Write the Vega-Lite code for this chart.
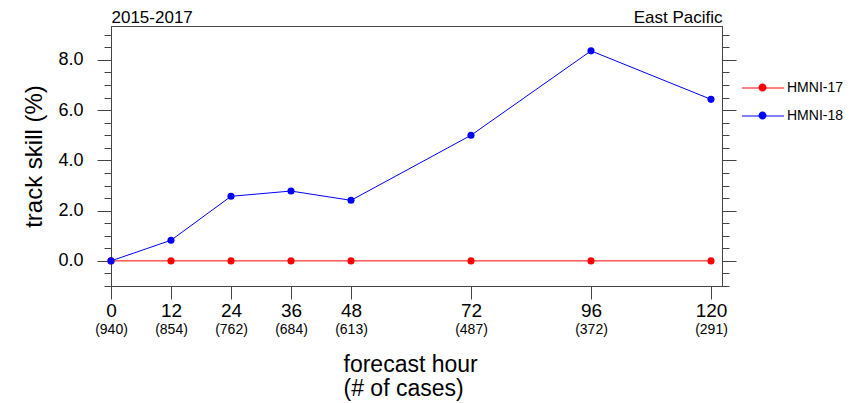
{
  "$schema": "https://vega.github.io/schema/vega-lite/v6.json",
  "width": 611,
  "height": 260,
  "autosize": {"type": "none"},
  "padding": {"left": 111, "top": 26, "right": 129, "bottom": 117},
  "background": "white",
  "config": {
    "font": "Liberation Sans",
    "view": {"stroke": "#444444", "strokeWidth": 1},
    "axis": {
      "grid": false,
      "domainColor": "#444444",
      "tickColor": "#444444",
      "labelColor": "#000000",
      "titleColor": "#000000",
      "titleFontWeight": "normal",
      "labelFlush": false,
      "labelOverlap": false,
      "labelBound": false,
      "labelFont": "Liberation Sans",
      "titleFont": "Liberation Sans"
    }
  },
  "data": {
    "values": [
      {"model": "HMNI-17", "hour": 0, "cases": 940, "skill": 0.0},
      {"model": "HMNI-17", "hour": 12, "cases": 854, "skill": 0.0},
      {"model": "HMNI-17", "hour": 24, "cases": 762, "skill": 0.0},
      {"model": "HMNI-17", "hour": 36, "cases": 684, "skill": 0.0},
      {"model": "HMNI-17", "hour": 48, "cases": 613, "skill": 0.0},
      {"model": "HMNI-17", "hour": 72, "cases": 487, "skill": 0.0},
      {"model": "HMNI-17", "hour": 96, "cases": 372, "skill": 0.0},
      {"model": "HMNI-17", "hour": 120, "cases": 291, "skill": 0.0},
      {"model": "HMNI-18", "hour": 0, "cases": 940, "skill": 0.0},
      {"model": "HMNI-18", "hour": 12, "cases": 854, "skill": 0.82},
      {"model": "HMNI-18", "hour": 24, "cases": 762, "skill": 2.57},
      {"model": "HMNI-18", "hour": 36, "cases": 684, "skill": 2.78},
      {"model": "HMNI-18", "hour": 48, "cases": 613, "skill": 2.41},
      {"model": "HMNI-18", "hour": 72, "cases": 487, "skill": 5.0},
      {"model": "HMNI-18", "hour": 96, "cases": 372, "skill": 8.36},
      {"model": "HMNI-18", "hour": 120, "cases": 291, "skill": 6.43}
    ]
  },
  "layer": [
    {
      "mark": {"type": "line", "strokeWidth": 1},
      "encoding": {
        "x": {
          "field": "hour", "type": "quantitative",
          "scale": {"domain": [0, 122.2], "nice": false, "zero": false},
          "axis": {
            "orient": "bottom",
            "values": [0, 12, 24, 36, 48, 72, 96, 120],
            "tickSize": 13,
            "labelFontSize": 19,
            "labelPadding": 2,
            "title": null
          }
        },
        "y": {
          "field": "skill", "type": "quantitative",
          "scale": {"domain": [-1, 9.35], "nice": false, "zero": false},
          "axis": {
            "orient": "left",
            "values": [0, 2, 4, 6, 8],
            "format": ".1f",
            "tickSize": 14,
            "labelFontSize": 18,
            "labelPadding": 14,
            "title": "track skill (%)",
            "titleFontSize": 24,
            "titlePadding": 11
          }
        },
        "color": {
          "field": "model", "type": "nominal",
          "scale": {"domain": ["HMNI-17", "HMNI-18"], "range": ["#ff0000", "#0000ff"]},
          "legend": {
            "title": null,
            "orient": "none",
            "legendX": 641,
            "legendY": 51,
            "padding": 0,
            "symbolType": "M-2,0L2,0",
            "symbolSize": 441,
            "symbolStrokeWidth": 1,
            "symbolOpacity": 1,
            "labelFontSize": 14,
            "labelOffset": 13,
            "labelColor": "#000000",
            "labelFont": "Liberation Sans",
            "rowPadding": 10
          }
        }
      }
    },
    {
      "mark": {"type": "point", "filled": true, "size": 50, "opacity": 1},
      "encoding": {
        "x": {
          "field": "hour", "type": "quantitative",
          "scale": {"domain": [0, 122.2], "nice": false, "zero": false},
          "axis": {
            "orient": "bottom",
            "values": [0, 12, 24, 36, 48, 72, 96, 120],
            "labelExpr": "['(940)','(854)','(762)','(684)','(613)','(487)','(372)','(291)'][indexof([0,12,24,36,48,72,96,120], datum.value)]",
            "ticks": false,
            "tickSize": 0,
            "domain": false,
            "labelFontSize": 14,
            "labelPadding": 36,
            "title": ["forecast hour", "(# of cases)"],
            "titleFontSize": 23,
            "titleLineHeight": 24,
            "titleAlign": "left",
            "titleX": 232,
            "titlePadding": 17
          }
        },
        "y": {
          "field": "skill", "type": "quantitative",
          "scale": {"domain": [-1, 9.35], "nice": false, "zero": false},
          "axis": {
            "orient": "left",
            "values": [-1, -0.5, 0, 0.5, 1, 1.5, 2, 2.5, 3, 3.5, 4, 4.5, 5, 5.5, 6, 6.5, 7, 7.5, 8, 8.5, 9],
            "labels": false,
            "domain": false,
            "tickSize": 7,
            "title": null
          }
        },
        "color": {
          "field": "model", "type": "nominal",
          "scale": {"domain": ["HMNI-17", "HMNI-18"], "range": ["#ff0000", "#0000ff"]},
          "legend": {
            "title": null,
            "orient": "none",
            "legendX": 641,
            "legendY": 51,
            "padding": 0,
            "symbolType": "M-0.38,0A0.38,0.38 0 1,1 0.38,0A0.38,0.38 0 1,1 -0.38,0Z",
            "symbolSize": 441,
            "symbolStrokeWidth": 0,
            "symbolOpacity": 1,
            "labelFontSize": 14,
            "labelOffset": 13,
            "labelOpacity": 0,
            "labelFont": "Liberation Sans",
            "rowPadding": 10
          }
        }
      }
    },
    {
      "mark": {"type": "point", "opacity": 0},
      "encoding": {
        "x": {
          "field": "hour", "type": "quantitative",
          "scale": {"domain": [0, 122.2], "nice": false, "zero": false},
          "axis": {
            "orient": "top",
            "ticks": false, "tickSize": 0, "labels": false, "domain": false,
            "title": "East Pacific",
            "titleAnchor": "end",
            "titleFontSize": 17,
            "titlePadding": 0
          }
        },
        "y": {
          "field": "skill", "type": "quantitative",
          "scale": {"domain": [-1, 9.35], "nice": false, "zero": false},
          "axis": {
            "orient": "right",
            "values": [0, 2, 4, 6, 8],
            "labels": false,
            "tickSize": 14,
            "title": null
          }
        }
      }
    },
    {
      "mark": {"type": "point", "opacity": 0},
      "encoding": {
        "x": {
          "field": "hour", "type": "quantitative",
          "scale": {"domain": [0, 122.2], "nice": false, "zero": false},
          "axis": {
            "orient": "top",
            "ticks": false, "tickSize": 0, "labels": false, "domain": false,
            "title": "2015-2017",
            "titleAnchor": "start",
            "titleFontSize": 17,
            "titlePadding": 0
          }
        },
        "y": {
          "field": "skill", "type": "quantitative",
          "scale": {"domain": [-1, 9.35], "nice": false, "zero": false},
          "axis": {
            "orient": "right",
            "values": [-1, -0.5, 0, 0.5, 1, 1.5, 2, 2.5, 3, 3.5, 4, 4.5, 5, 5.5, 6, 6.5, 7, 7.5, 8, 8.5, 9],
            "labels": false,
            "domain": false,
            "tickSize": 7,
            "title": null
          }
        }
      }
    }
  ],
  "resolve": {"axis": {"x": "independent", "y": "independent"}, "legend": {"color": "independent"}}
}
